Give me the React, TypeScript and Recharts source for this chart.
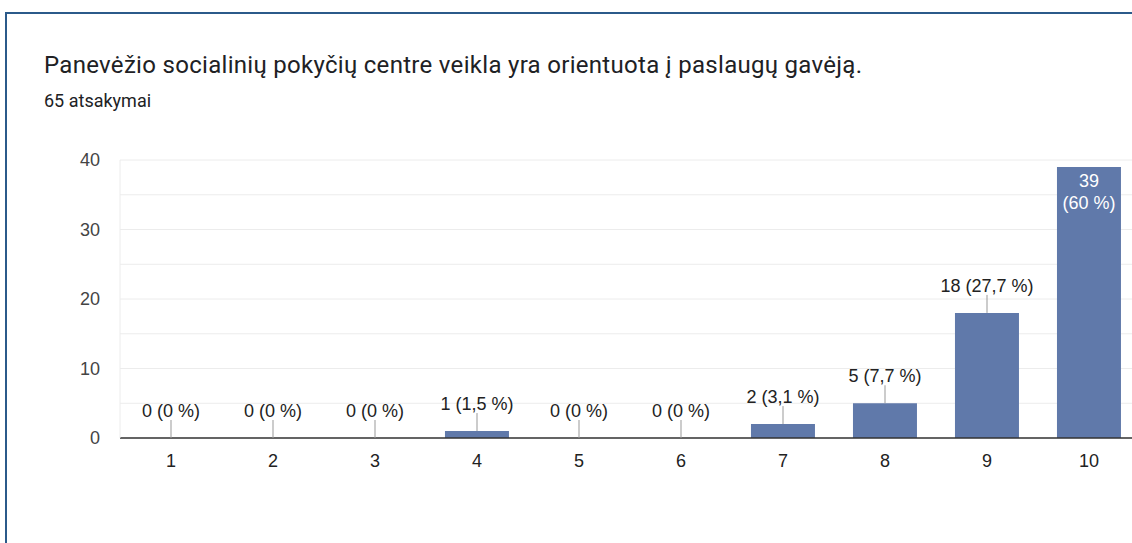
import React from 'react';
import { ComposedChart, Bar, Line, XAxis, YAxis, CartesianGrid } from 'recharts';

const categories = ['1', '2', '3', '4', '5', '6', '7', '8', '9', '10'];
const counts = [0, 0, 0, 1, 0, 0, 2, 5, 18, 39];
const percents = ['0 %', '0 %', '0 %', '1,5 %', '0 %', '0 %', '3,1 %', '7,7 %', '27,7 %', '60 %'];
// gridlines every 5, labels only every 10
const yTicks = [0, 5, 10, 15, 20, 25, 30, 35, 40];

const data = categories.map((c, i) => ({ name: c, count: counts[i], pct: percents[i] }));

const chartFont = '"Liberation Sans", Arial, sans-serif';

const YTick = (props: any) => {
  const { x, y, payload } = props;
  if (payload.value % 10 !== 0) return <g />;
  return (
    <text x={x} y={y} textAnchor="end" dominantBaseline="central" fill="#444444" fontSize={18} fontFamily={chartFont}>
      {payload.value}
    </text>
  );
};

// label drawn at the top of each bar: above with a leader line, or inside when the bar is tall
const BarLabel = (props: any) => {
  const { cx, cy, index } = props;
  if (cx == null || cy == null) return <g key={index} />;
  const count = counts[index];
  const pct = percents[index];
  if (count >= 30) {
    return (
      <g key={index} fontFamily={chartFont} fontSize={18} fill="#ffffff">
        <text x={cx} y={cy + 14} textAnchor="middle" dominantBaseline="central">{count}</text>
        <text x={cx} y={cy + 36} textAnchor="middle" dominantBaseline="central">({pct})</text>
      </g>
    );
  }
  return (
    <g key={index}>
      <line x1={cx} x2={cx} y1={cy - 18} y2={cy} stroke="#999999" strokeWidth={1} />
      <text x={cx} y={cy - 27} textAnchor="middle" dominantBaseline="central" fontFamily={chartFont} fontSize={18} fill="#222222">
        {`${count} (${pct})`}
      </text>
    </g>
  );
};

export default function App() {
  return (
    <div style={{ position: 'relative', width: 1132, height: 543, overflow: 'hidden', background: '#fff' }}>
      <style>{`body{margin:0}`}</style>
      <div style={{ position: 'absolute', left: 5, top: 12, width: 1200, height: 600, border: '2px solid #2b5a8a', boxSizing: 'border-box' }} />
      <div style={{ position: 'absolute', left: 44, top: 51, fontFamily: 'Roboto, sans-serif', fontSize: 24, letterSpacing: 0.3, color: '#202124', whiteSpace: 'nowrap' }}>
        Panevėžio socialinių pokyčių centre veikla yra orientuota į paslaugų gavėją.
      </div>
      <div style={{ position: 'absolute', left: 44, top: 90, fontFamily: 'Roboto, sans-serif', fontSize: 18, color: '#202124', whiteSpace: 'nowrap' }}>
        65 atsakymai
      </div>
      <div style={{ position: 'absolute', left: 0, top: 0 }}>
        <ComposedChart width={1150} height={488} data={data} margin={{ top: 160, right: 10, bottom: 0, left: 0 }} barCategoryGap="18.6%">
          <CartesianGrid vertical={false} stroke="#ececec" />
          <XAxis
            dataKey="name"
            height={50}
            tickLine={false}
            tickSize={0}
            tickMargin={16}
            axisLine={{ stroke: '#333333', strokeWidth: 1.5 }}
            tick={{ fill: '#222222', fontSize: 18, fontFamily: chartFont }}
          />
          <YAxis
            width={120}
            domain={[0, 40]}
            ticks={yTicks}
            interval={0}
            tickLine={false}
            tickSize={0}
            tickMargin={20}
            axisLine={{ stroke: '#ececec' }}
            tick={YTick}
          />
          <Bar dataKey="count" fill="#6079aa" isAnimationActive={false} />
          <Line dataKey="count" stroke="none" dot={BarLabel} activeDot={false} legendType="none" isAnimationActive={false} />
        </ComposedChart>
      </div>
    </div>
  );
}
